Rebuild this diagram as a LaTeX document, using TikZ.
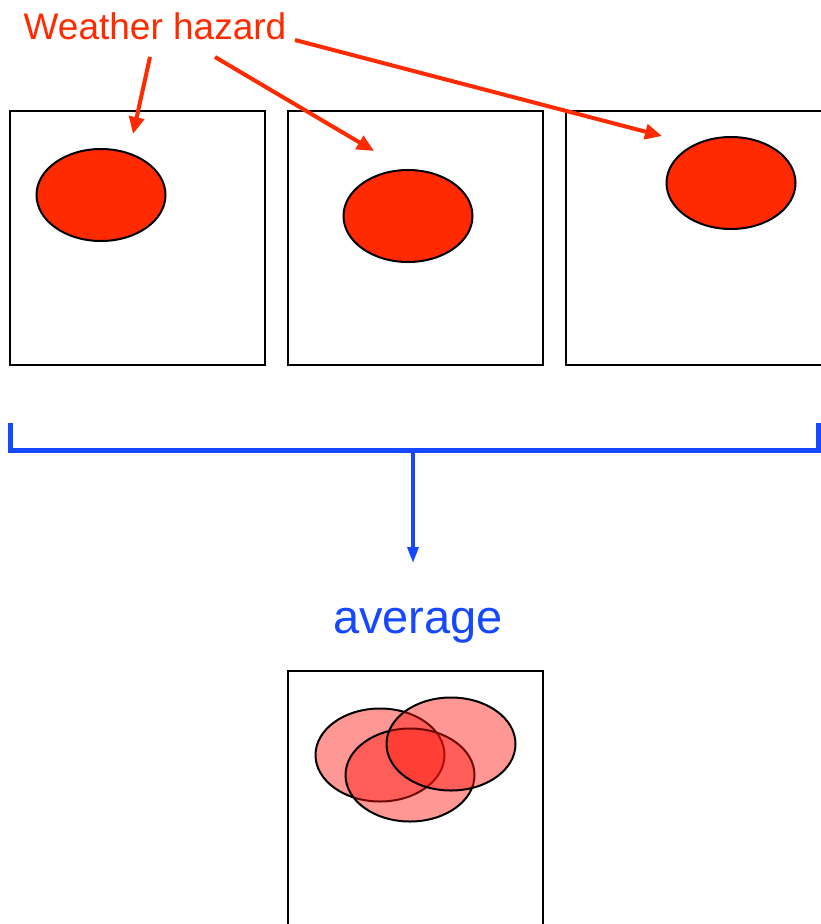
\documentclass[tikz,border=0pt]{standalone}
\usepackage{fontspec}
\setmainfont{Liberation Sans}
\usetikzlibrary{shapes.geometric,arrows.meta}
\definecolor{hazred}{RGB}{255,42,0}
\definecolor{softred}{RGB}{255,22,12}
\definecolor{avgblue}{RGB}{22,72,255}
\tikzset{
  frame/.style={draw=black,line width=2pt,fill=white},
  blob/.style={ellipse,draw=black,line width=2pt,fill=hazred,minimum width=129pt,minimum height=92pt,inner sep=0pt},
  softblob/.style={ellipse,draw=black,line width=2pt,fill=softred,fill opacity=0.44,minimum width=129pt,minimum height=93pt,inner sep=0pt},
  redarrow/.style={draw=hazred,line width=4pt,-{Triangle[length=17pt,width=15pt]}},
  bluebar/.style={draw=avgblue,line width=5pt},
  bluearrow/.style={draw=avgblue,line width=3.5pt,-{Triangle[length=16pt,width=11pt]}}
}
\begin{document}
\begin{tikzpicture}[x=1pt,y=-1pt]
\useasboundingbox (0,0) rectangle (820,924);
% frames
\draw[frame] (10,111) rectangle (265,365);
\draw[frame] (288,111) rectangle (543,365);
\draw[frame] (566,111) rectangle (824,365);
\draw[frame] (288,671) rectangle (543,940);
% hazards
\node[blob] (e1) at (101,195) {};
\node[blob] (e2) at (408,216) {};
\node[blob] (e3) at (731,183) {};
% label
\node[anchor=base,text=hazred,font=\fontsize{37}{40}\selectfont,inner sep=0pt] (lbl) at (155,39) {Weather hazard};
\coordinate (s1) at (150,57);
\coordinate (t1) at (133,134);
\coordinate (s2) at (215,57);
\coordinate (t2) at (374,151);
\coordinate (s3) at (295,40);
\coordinate (t3) at (662,136);
\draw[redarrow] (s1) -- (t1);
\draw[redarrow] (s2) -- (t2);
\draw[redarrow] (s3) -- (t3);
% bracket
\coordinate (bl) at (10,423);
\coordinate (blc) at (10,450);
\coordinate (brc) at (818,450);
\coordinate (br) at (818,423);
\coordinate (bm) at (413,450);
\coordinate (bt) at (413,563);
\draw[bluebar] (bl) -- (blc) -- (brc) -- (br);
\draw[bluearrow] (bm) -- (bt);
\node[anchor=base,text=avgblue,font=\fontsize{47}{50}\selectfont,inner sep=0pt] (avg) at (418,633) {average};
% averaged blobs
\node[softblob] (a1) at (380,755) {};
\node[softblob] (a3) at (410,775) {};
\node[softblob] (a2) at (451,744) {};
\end{tikzpicture}
\end{document}
